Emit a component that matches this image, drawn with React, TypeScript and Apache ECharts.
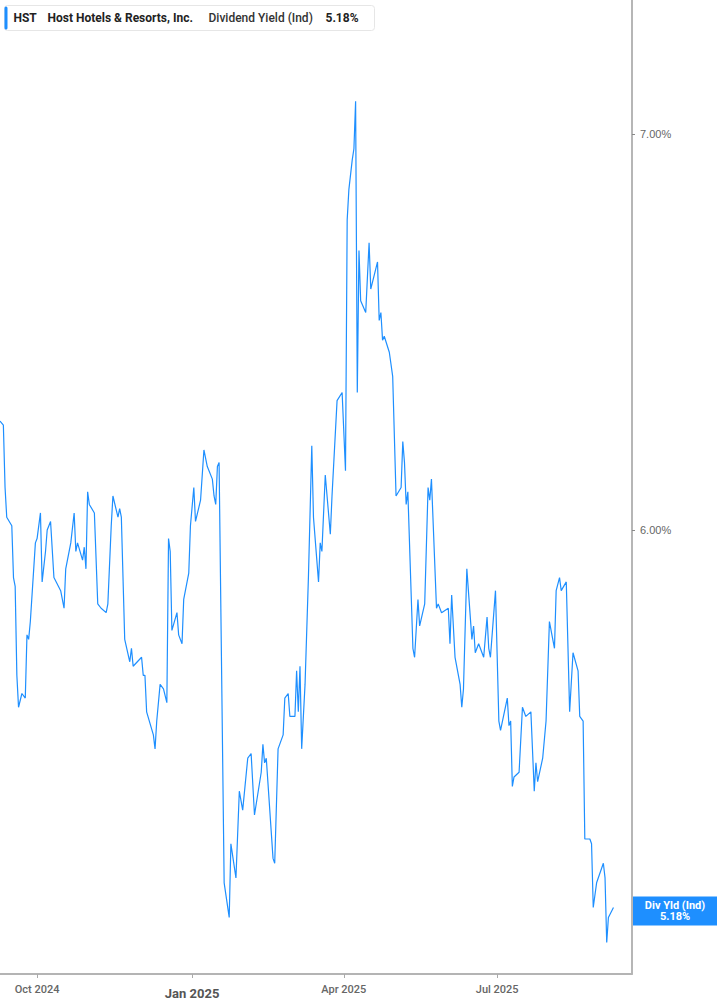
import React, { useEffect, useRef } from 'react';
import * as echarts from 'echarts';

// HST indicated dividend yield (%)
const dates = [
  '2024-09-09', '2024-09-11', '2024-09-12', '2024-09-13', '2024-09-16', '2024-09-17', '2024-09-18', '2024-09-19',
  '2024-09-20', '2024-09-22', '2024-09-24', '2024-09-25', '2024-09-26', '2024-09-27', '2024-09-30', '2024-10-01',
  '2024-10-03', '2024-10-04', '2024-10-06', '2024-10-07', '2024-10-09', '2024-10-11', '2024-10-15', '2024-10-17',
  '2024-10-18', '2024-10-21', '2024-10-23', '2024-10-24', '2024-10-25', '2024-10-28', '2024-10-29', '2024-10-30',
  '2024-10-31', '2024-11-01', '2024-11-04', '2024-11-06', '2024-11-08', '2024-11-11', '2024-11-12', '2024-11-14',
  '2024-11-15', '2024-11-18', '2024-11-19', '2024-11-20', '2024-11-22', '2024-11-25', '2024-11-26', '2024-11-27',
  '2024-12-02', '2024-12-03', '2024-12-04', '2024-12-05', '2024-12-09', '2024-12-10', '2024-12-11', '2024-12-13',
  '2024-12-15', '2024-12-17', '2024-12-18', '2024-12-19', '2024-12-20', '2024-12-23', '2024-12-24', '2024-12-26',
  '2024-12-27', '2024-12-30', '2024-12-31', '2025-01-02', '2025-01-03', '2025-01-06', '2025-01-08', '2025-01-10',
  '2025-01-13', '2025-01-14', '2025-01-15', '2025-01-16', '2025-01-17', '2025-01-20', '2025-01-23', '2025-01-24',
  '2025-01-27', '2025-01-29', '2025-01-31', '2025-02-03', '2025-02-05', '2025-02-07', '2025-02-11', '2025-02-12',
  '2025-02-13', '2025-02-14', '2025-02-18', '2025-02-19', '2025-02-21', '2025-02-24', '2025-02-25', '2025-02-27',
  '2025-02-28', '2025-03-03', '2025-03-04', '2025-03-05', '2025-03-06', '2025-03-07', '2025-03-09', '2025-03-11',
  '2025-03-13', '2025-03-14', '2025-03-17', '2025-03-18', '2025-03-19', '2025-03-21', '2025-03-24', '2025-03-25',
  '2025-03-28', '2025-03-31', '2025-04-02', '2025-04-03', '2025-04-04', '2025-04-06', '2025-04-07', '2025-04-08',
  '2025-04-09', '2025-04-10', '2025-04-11', '2025-04-14', '2025-04-16', '2025-04-17', '2025-04-21', '2025-04-22',
  '2025-04-23', '2025-04-24', '2025-04-25', '2025-04-28', '2025-04-29', '2025-04-30', '2025-05-02', '2025-05-05',
  '2025-05-06', '2025-05-07', '2025-05-08', '2025-05-09', '2025-05-12', '2025-05-13', '2025-05-15', '2025-05-16',
  '2025-05-19', '2025-05-21', '2025-05-22', '2025-05-23', '2025-05-26', '2025-05-27', '2025-05-29', '2025-06-02',
  '2025-06-03', '2025-06-04', '2025-06-06', '2025-06-09', '2025-06-10', '2025-06-11', '2025-06-13', '2025-06-16',
  '2025-06-17', '2025-06-18', '2025-06-20', '2025-06-23', '2025-06-25', '2025-06-26', '2025-06-27', '2025-06-30',
  '2025-07-02', '2025-07-03', '2025-07-07', '2025-07-08', '2025-07-09', '2025-07-10', '2025-07-11', '2025-07-14',
  '2025-07-16', '2025-07-18', '2025-07-21', '2025-07-23', '2025-07-24', '2025-07-25', '2025-07-28', '2025-07-30',
  '2025-08-01', '2025-08-04', '2025-08-05', '2025-08-07', '2025-08-08', '2025-08-11', '2025-08-13', '2025-08-15',
  '2025-08-18', '2025-08-19', '2025-08-21', '2025-08-22', '2025-08-25', '2025-08-26', '2025-08-27', '2025-08-29',
  '2025-09-02', '2025-09-03', '2025-09-04', '2025-09-05', '2025-09-08',
];

const yields = [
  6.26, 6.25, 6.10, 6.03, 6.01, 5.89, 5.87, 5.67,
  5.60, 5.63, 5.62, 5.76, 5.75, 5.79, 5.97, 5.98,
  6.04, 5.88, 5.95, 6.00, 6.02, 5.89, 5.86, 5.82,
  5.91, 5.97, 6.04, 5.95, 5.97, 5.93, 5.96, 5.91,
  6.09, 6.06, 6.04, 5.83, 5.82, 5.81, 5.83, 6.01,
  6.08, 6.03, 6.05, 6.03, 5.75, 5.70, 5.73, 5.69,
  5.71, 5.67, 5.67, 5.59, 5.54, 5.51, 5.57, 5.65,
  5.64, 5.61, 5.98, 5.95, 5.77, 5.81, 5.76, 5.74,
  5.84, 5.90, 6.01, 6.10, 6.02, 6.07, 6.19, 6.15,
  6.12, 6.08, 6.06, 6.15, 6.16, 5.23, 5.16, 5.31,
  5.24, 5.42, 5.38, 5.49, 5.50, 5.37, 5.46, 5.52,
  5.48, 5.49, 5.28, 5.27, 5.51, 5.54, 5.62, 5.63,
  5.58, 5.58, 5.68, 5.59, 5.69, 5.51, 5.65, 5.89,
  6.20, 6.03, 5.88, 5.97, 5.95, 6.13, 5.99, 6.08,
  6.31, 6.33, 6.14, 6.77, 6.85, 6.93, 6.96, 7.09,
  6.33, 6.69, 6.56, 6.53, 6.71, 6.59, 6.66, 6.51,
  6.53, 6.46, 6.47, 6.43, 6.40, 6.37, 6.08, 6.10,
  6.21, 6.16, 6.06, 6.09, 5.73, 5.71, 5.84, 5.78,
  5.83, 6.10, 6.07, 6.12, 5.82, 5.83, 5.81, 5.82,
  5.74, 5.85, 5.71, 5.65, 5.60, 5.64, 5.91, 5.75,
  5.78, 5.72, 5.74, 5.71, 5.80, 5.73, 5.71, 5.86,
  5.57, 5.55, 5.62, 5.56, 5.57, 5.43, 5.45, 5.46,
  5.60, 5.58, 5.59, 5.42, 5.48, 5.44, 5.49, 5.57,
  5.79, 5.73, 5.86, 5.89, 5.86, 5.88, 5.59, 5.72,
  5.68, 5.58, 5.57, 5.32, 5.32, 5.31, 5.18, 5.23,
  5.27, 5.24, 5.11, 5.16, 5.18,
];

const xTickDates = ['2024-10-01', '2025-01-01', '2025-04-01', '2025-07-01'];
const yTickValues = [6, 7];
const xRange = ['2024-09-09', '2025-09-19'];
const yRange = [5.0476, 7.375];

const MONTHS = ['Jan', 'Feb', 'Mar', 'Apr', 'May', 'Jun', 'Jul', 'Aug', 'Sep', 'Oct', 'Nov', 'Dec'];
const BLUE = '#1E8FFF';
const GRID_RIGHT = 85;

const ts = (s: string) => new Date(s + 'T00:00:00').getTime();

const App = () => {
  const chartRef = useRef<HTMLDivElement>(null);

  useEffect(() => {
    const chart = echarts.init(chartRef.current, null, { renderer: 'svg' });
    const last = yields[yields.length - 1];
    const lastText = last.toFixed(2) + '%';
    // the value axis is logarithmic in the original, so plot ln(yield)
    const yTicks = yTickValues.map((v) => Math.log(v));
    const xTicks = xTickDates.map(ts);

    chart.setOption({
      animation: false,
      grid: { left: 0, right: GRID_RIGHT, top: 0, bottom: 31, outerBoundsMode: 'none' },
      xAxis: {
        type: 'value',
        min: ts(xRange[0]),
        max: ts(xRange[1]),
        splitLine: { show: false },
        axisLine: { lineStyle: { color: '#b4b4b4', width: 2 } },
        axisTick: { customValues: xTicks, length: 4, lineStyle: { color: '#aaa' } },
        axisLabel: {
          customValues: xTicks,
          margin: 10,
          color: '#666',
          fontFamily: 'Roboto',
          fontWeight: 500,
          fontSize: 11,
          formatter: (v: number) => {
            const d = new Date(v);
            const s = MONTHS[d.getMonth()] + ' ' + d.getFullYear();
            return d.getMonth() === 0 ? '{y|' + s + '}' : s;
          },
          rich: { y: { fontWeight: 'bold', fontSize: 13, color: '#555', fontFamily: 'Roboto', padding: [3, 0, 0, 0] } },
        },
      },
      yAxis: {
        type: 'value',
        position: 'right',
        min: Math.log(yRange[0]),
        max: Math.log(yRange[1]),
        splitLine: { show: false },
        axisLine: { show: true, lineStyle: { color: '#9e9e9e', width: 1.5 } },
        axisTick: { show: true, customValues: yTicks, length: 3, lineStyle: { color: '#888' } },
        axisLabel: {
          customValues: yTicks,
          margin: 8,
          color: '#666',
          fontFamily: 'Liberation Sans',
          fontSize: 11,
          formatter: (v: number) => Math.exp(v).toFixed(2) + '%',
        },
      },
      series: [
        {
          type: 'line',
          data: dates.map((d, i) => [ts(d), Math.log(yields[i])]),
          showSymbol: false,
          lineStyle: { color: BLUE, width: 1.2 },
        },
      ],
    });

    // header box + last-value tag on the right axis (tag placed through the axis scale)
    const yPix = chart.convertToPixel({ yAxisIndex: 0 }, Math.log(last)) as number;
    const axisX = chart.getWidth() - GRID_RIGHT;
    const tagW = chart.getWidth() - axisX - 1;
    chart.setOption({
      graphic: [
        {
          id: 'header',
          type: 'group',
          left: 4,
          top: 5,
          children: [
            { type: 'rect', shape: { x: 0, y: 0, width: 370, height: 25, r: 3 }, style: { fill: '#fff', stroke: '#e6e6e6', lineWidth: 1 } },
            { type: 'rect', shape: { x: 0, y: 1, width: 3, height: 23, r: 1.5 }, style: { fill: BLUE } },
            { type: 'text', x: 9, y: 12.5, style: { text: 'HST', fill: '#222', font: 'bold 12px Roboto', textVerticalAlign: 'middle' } },
            { type: 'text', x: 43, y: 12.5, style: { text: 'Host Hotels & Resorts, Inc.', fill: '#222', font: 'bold 12px Roboto', textVerticalAlign: 'middle' } },
            { type: 'text', x: 204, y: 12.5, style: { text: 'Dividend Yield (Ind)', fill: '#333', font: '500 12px Roboto', textVerticalAlign: 'middle' } },
            { type: 'text', x: 321, y: 12.5, style: { text: lastText, fill: '#222', font: 'bold 12px Roboto', textVerticalAlign: 'middle' } },
          ],
        },
        {
          id: 'tag',
          type: 'group',
          x: axisX + 1,
          y: yPix - 11,
          children: [
            { type: 'rect', shape: { x: 0, y: 0, width: tagW, height: 29 }, style: { fill: BLUE } },
            { type: 'text', x: tagW / 2, y: 9, style: { text: 'Div Yld (Ind)', fill: '#fff', font: 'bold 11px Roboto', align: 'center', verticalAlign: 'middle' } },
            { type: 'text', x: tagW / 2, y: 20, style: { text: lastText, fill: '#fff', font: 'bold 11px Roboto', align: 'center', verticalAlign: 'middle' } },
          ],
        },
      ],
    });

    return () => chart.dispose();
  }, []);

  return <div ref={chartRef} style={{ position: 'absolute', left: 0, top: 0, width: 717, height: 1005 }} />;
};

export default App;
